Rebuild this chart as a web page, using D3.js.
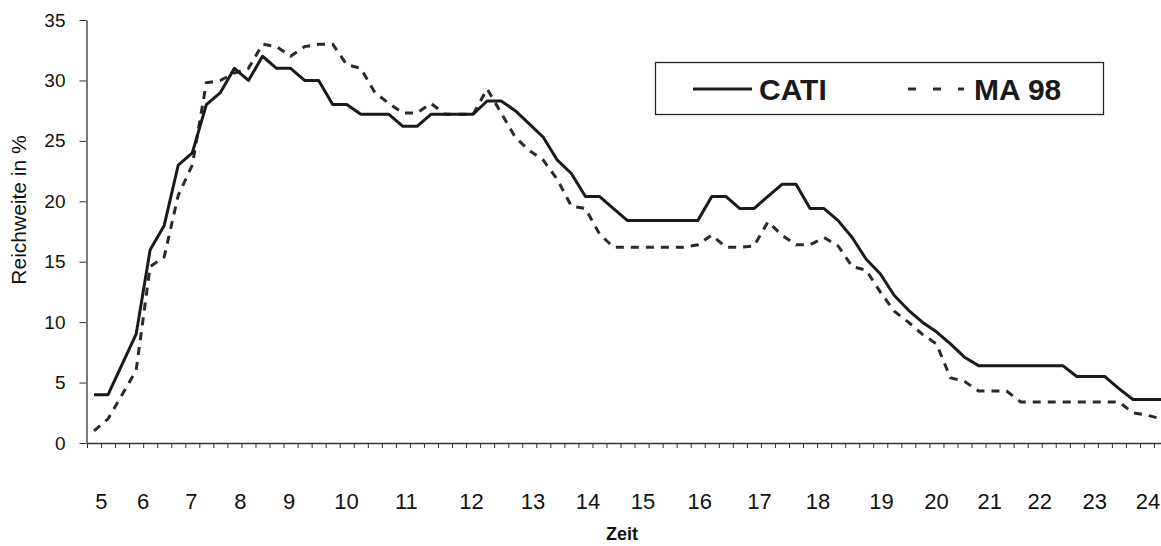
<!DOCTYPE html>
<html>
<head>
<meta charset="utf-8">
<script src="https://cdn.jsdelivr.net/npm/d3@7"></script>
<style>
  body { margin: 0; background: #fff; }
  svg { display: block; font-family: "Liberation Sans", Arial, sans-serif; }
</style>
</head>
<body>
<div id="chart"></div>
<script>
//----------------------------------------------------------------
// données : Reichweite in % par quart d'heure (05:00 - 24:00)
//----------------------------------------------------------------
var cati = [
    4, 4, 6.5, 9, 16, 18, 23, 24, 28, 29,
    31, 30, 32, 31, 31, 30, 30, 28, 28, 27.2,
    27.2, 27.2, 26.2, 26.2, 27.2, 27.2, 27.2, 27.2, 28.3, 28.3,
    27.5, 26.4, 25.3, 23.4, 22.3, 20.4, 20.4, 19.4, 18.4, 18.4,
    18.4, 18.4, 18.4, 18.4, 20.4, 20.4, 19.4, 19.4, 20.4, 21.4,
    21.4, 19.4, 19.4, 18.4, 17.0, 15.2, 14.0, 12.2, 11.0, 10.0,
    9.2, 8.2, 7.1, 6.4, 6.4, 6.4, 6.4, 6.4, 6.4, 6.4,
    5.5, 5.5, 5.5, 4.5, 3.6, 3.6, 3.6
];

var ma98 = [
    1, 2, 4, 6, 14.6, 15.4, 20.5, 23, 29.8, 30,
    30.6, 31, 33, 32.8, 32, 32.8, 33, 33, 31.3, 31,
    29, 28.1, 27.3, 27.3, 28.1, 27.2, 27.2, 27.2, 29.3, 27.3,
    25.3, 24.2, 23.4, 21.8, 19.6, 19.4, 17.3, 16.2, 16.2, 16.2,
    16.2, 16.2, 16.2, 16.4, 17.2, 16.2, 16.2, 16.3, 18.3, 17.2,
    16.4, 16.4, 17, 16.3, 14.6, 14.3, 12.5, 10.9, 10, 9,
    8.2, 5.4, 5.1, 4.3, 4.3, 4.3, 3.4, 3.4, 3.4, 3.4,
    3.4, 3.4, 3.4, 3.4, 2.5, 2.3, 2
];

// libellés des heures et leur place sur l'axe (en quarts d'heure)
var hourLabels = ["5", "6", "7", "8", "9", "10", "11", "12", "13", "14",
                  "15", "16", "17", "18", "19", "20", "21", "22", "23", "24"];
var hourSlots = [0.53, 3.49, 6.94, 10.43, 13.89, 17.98, 22.25, 26.88, 31.27, 35.19,
                 39.10, 43.14, 47.4, 51.57, 56.08, 60.0, 63.8, 67.36, 71.28, 75.07];

var yTicks = [0, 5, 10, 15, 20, 25, 30, 35];

var seriesNames = ["CATI", "MA 98"];

// dimensions
var W = 1161, H = 546;
var margin = {top: 20, left: 87, bottom: 103};
var nCat = cati.length;
var catWidth = 14.04;
var plotRight = margin.left + nCat * catWidth;

var svg = d3.select("#chart").append("svg")
    .attr("width", W)
    .attr("height", H);

svg.append("rect").attr("width", W).attr("height", H).attr("fill", "#fff");

// échelles
var x = d3.scaleLinear()
    .domain([-0.5, nCat - 0.5])
    .range([margin.left, plotRight]);
var y = d3.scaleLinear()
    .domain([0, 35])
    .range([H - margin.bottom, margin.top]);

//----------------------------------------------------------------
// axes
//----------------------------------------------------------------
var xAxis = svg.append("g")
    .attr("transform", "translate(0," + y(0) + ")")
    .call(d3.axisBottom(x)
        .tickValues(d3.range(-0.5, nCat, 1))
        .tickFormat("")
        .tickSizeInner(5)
        .tickSizeOuter(0));
xAxis.select(".domain").attr("stroke", "#333").attr("stroke-width", 1.3);
xAxis.selectAll(".tick line").attr("stroke", "#333");

var yAxis = svg.append("g")
    .attr("transform", "translate(" + (margin.left - 0.5) + ",0)")
    .call(d3.axisLeft(y)
        .tickValues(yTicks)
        .tickSizeInner(7)
        .tickSizeOuter(0)
        .tickPadding(14));
yAxis.select(".domain").attr("stroke", "#333").attr("stroke-width", 1.3);
yAxis.selectAll(".tick line").attr("stroke", "#333");
yAxis.selectAll(".tick text")
    .attr("font-size", 19)
    .attr("fill", "#111")
    .attr("font-family", "Liberation Sans, Arial, sans-serif");

// libellés des heures
svg.append("g").selectAll("text")
    .data(hourLabels)
    .enter().append("text")
    .attr("x", function(d, i) { return x(hourSlots[i]); })
    .attr("y", 509)
    .attr("text-anchor", "middle")
    .attr("font-size", 22)
    .attr("fill", "#111")
    .text(function(d) { return d; });

// titres des axes
svg.append("text")
    .attr("transform", "translate(26,210) rotate(-90)")
    .attr("text-anchor", "middle")
    .attr("font-size", 21)
    .attr("fill", "#111")
    .text("Reichweite in %");

svg.append("text")
    .attr("x", 622)
    .attr("y", 540)
    .attr("text-anchor", "middle")
    .attr("font-size", 18)
    .attr("font-weight", "bold")
    .attr("fill", "#111")
    .text("Zeit");

//----------------------------------------------------------------
// courbes
//----------------------------------------------------------------
var line = d3.line()
    .x(function(d, i) { return x(i); })
    .y(function(d) { return y(d); });

svg.append("path")
    .datum(ma98)
    .attr("d", line)
    .attr("fill", "none")
    .attr("stroke", "#2a2a2a")
    .attr("stroke-width", 3)
    .attr("stroke-dasharray", "8,7");

svg.append("path")
    .datum(cati)
    .attr("d", line)
    .attr("fill", "none")
    .attr("stroke", "#1a1a1a")
    .attr("stroke-width", 3)
    .attr("stroke-linejoin", "round");

//----------------------------------------------------------------
// légende
//----------------------------------------------------------------
var legend = svg.append("g").attr("class", "legend");

legend.append("rect")
    .attr("x", 655.5)
    .attr("y", 62.5)
    .attr("width", 448)
    .attr("height", 52)
    .attr("fill", "#fff")
    .attr("stroke", "#222")
    .attr("stroke-width", 1.3);

legend.append("line")
    .attr("x1", 693).attr("x2", 752)
    .attr("y1", 89).attr("y2", 89)
    .attr("stroke", "#1a1a1a")
    .attr("stroke-width", 3);

legend.append("text")
    .attr("x", 759)
    .attr("y", 100)
    .attr("font-size", 30)
    .attr("font-weight", "bold")
    .attr("fill", "#1a1a1a")
    .text(seriesNames[0]);

legend.append("line")
    .attr("x1", 908).attr("x2", 964)
    .attr("y1", 89).attr("y2", 89)
    .attr("stroke", "#2a2a2a")
    .attr("stroke-width", 3)
    .attr("stroke-dasharray", "8,17");

legend.append("text")
    .attr("x", 974)
    .attr("y", 100)
    .attr("font-size", 30)
    .attr("font-weight", "bold")
    .attr("fill", "#1a1a1a")
    .text(seriesNames[1]);
</script>
</body>
</html>
